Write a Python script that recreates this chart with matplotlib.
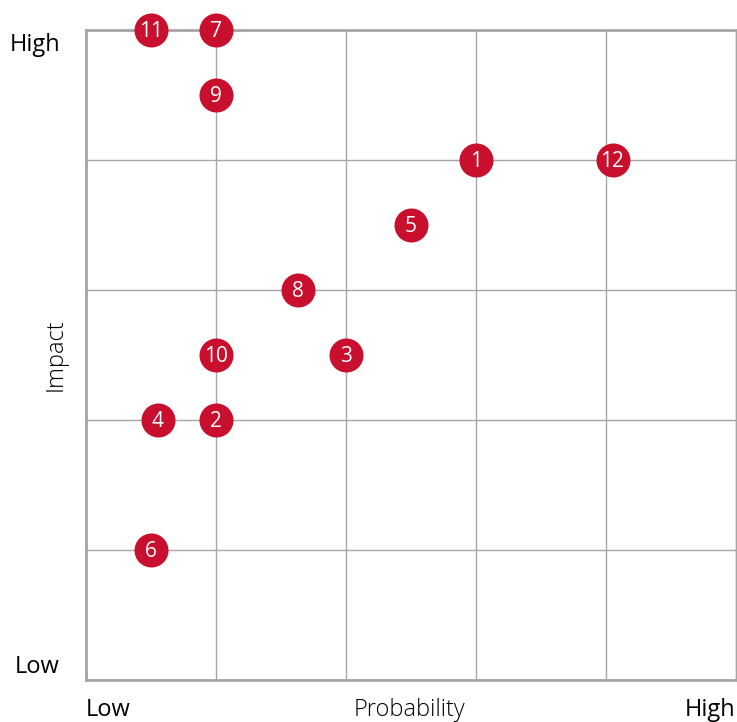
import matplotlib
matplotlib.use("Agg")
import matplotlib.pyplot as plt

# ── Data ─────────────────────────────────────────────────────────────────────
risk_ids = ["1", "2", "3", "4", "5", "6", "7", "8", "9", "10", "11", "12"]
probability = [3.0, 1.0, 2.0, 0.55, 2.5, 0.5, 1.0, 1.63, 1.0, 1.0, 0.5, 4.05]
impact = [4.0, 2.0, 2.5, 2.0, 3.5, 1.0, 5.0, 3.0, 4.5, 2.5, 5.0, 4.0]

RED = "#C8102E"
GRID = "#A6A6A6"
plt.rcParams["font.family"] = ["Open Sans", "DejaVu Sans"]

fig = plt.figure(figsize=(7.37, 7.22), dpi=100)
ax = fig.add_axes([86 / 737, 42 / 722, 650 / 737, 650 / 722])

ax.set_xlim(0, 5)
ax.set_ylim(0, 5)
ax.set_xticks(range(6))
ax.set_yticks(range(6))
ax.grid(True, color=GRID, linewidth=1)
ax.tick_params(length=0, labelleft=False, labelbottom=False)
for side in ["left", "bottom", "top"]:
    ax.spines[side].set_color(GRID)
    ax.spines[side].set_linewidth(2)
ax.spines["right"].set_color(GRID)
ax.spines["right"].set_linewidth(1)

ax.scatter(probability, impact, s=600, color=RED, zorder=3, clip_on=False,
           linewidths=0)
for rid, x, y in zip(risk_ids, probability, impact):
    ax.annotate(rid, (x, y), xytext=(0, -1), textcoords="offset points",
                color="white", fontsize=15, ha="center", va="center",
                zorder=4, annotation_clip=False)

# ── Axis annotations ─────────────────────────────────────────────────────────
fig.text(35 / 737, 1 - 45 / 722, "High", fontsize=17, ha="center", va="center")
fig.text(37 / 737, 1 - 667 / 722, "Low", fontsize=17, ha="center", va="center")
fig.text(108 / 737, 1 - 710 / 722, "Low", fontsize=17, ha="center", va="center")
fig.text(710 / 737, 1 - 710 / 722, "High", fontsize=17, ha="center", va="center")
fig.text(410 / 737, 1 - 710 / 722, "Probability", fontsize=17, ha="center",
         va="center", fontweight="light")
fig.text(56 / 737, 1 - 355 / 722, "Impact", fontsize=17, ha="center",
         va="center", rotation=90, fontweight="light")

fig.savefig("out.png", dpi=100)
